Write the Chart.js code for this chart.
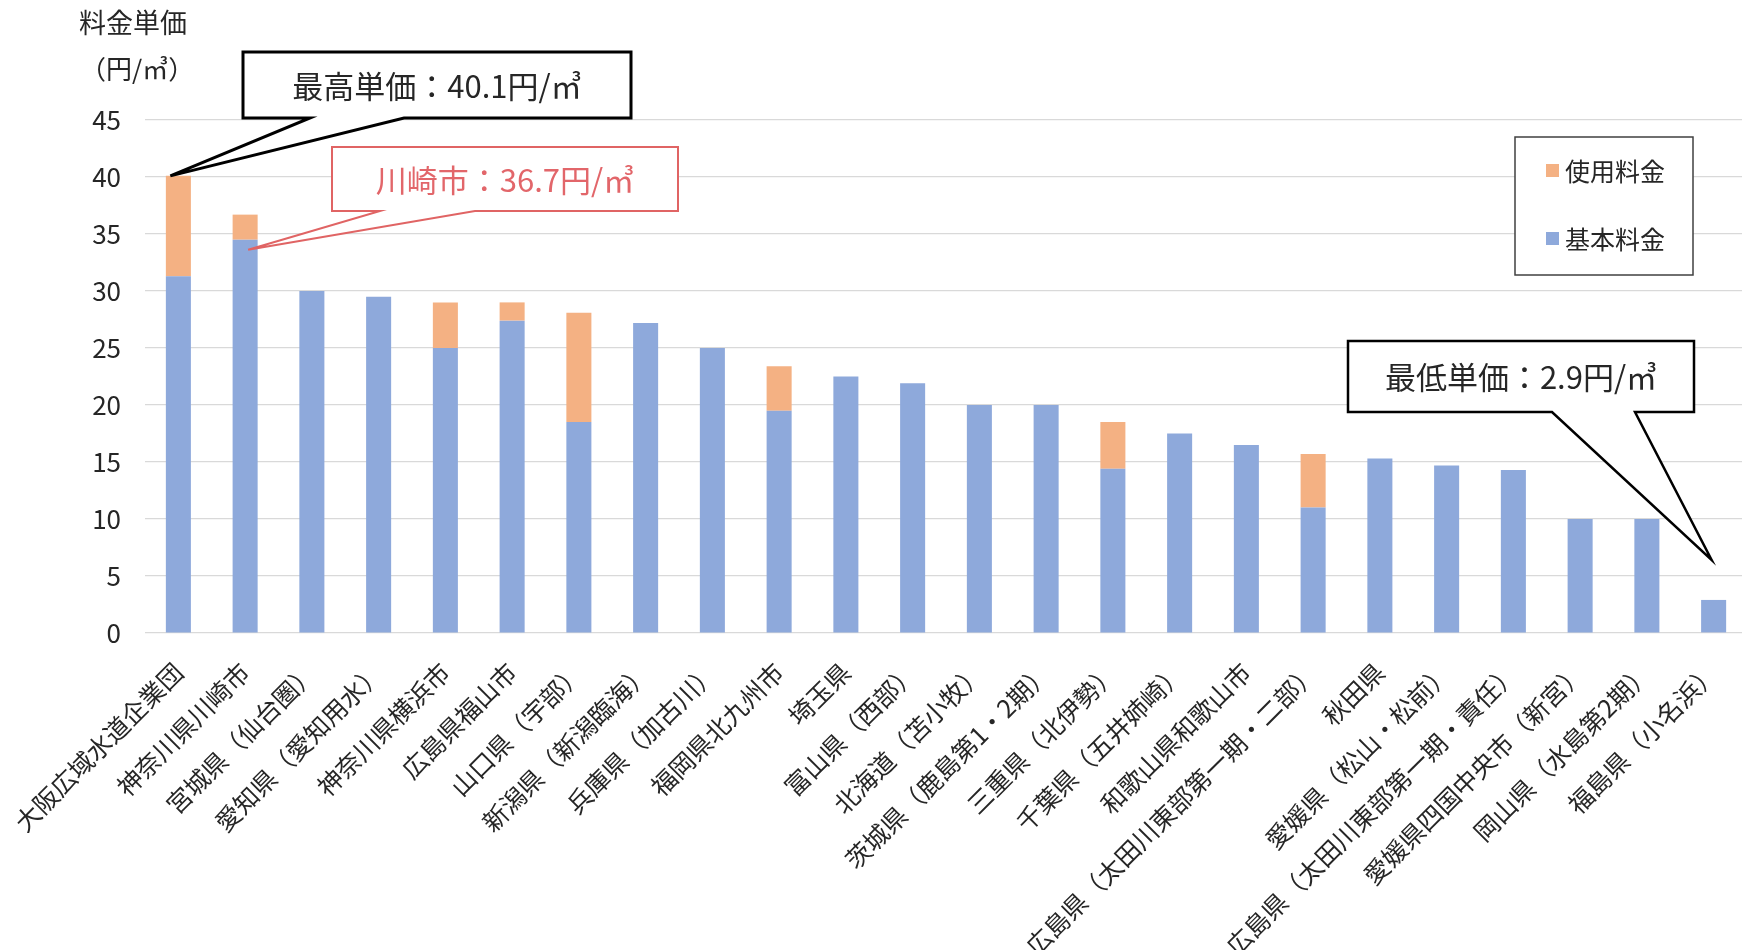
<!DOCTYPE html>
<html lang="ja">
<head>
<meta charset="utf-8">
<title>料金単価</title>
<script src="https://cdn.jsdelivr.net/npm/chart.js@4.4.1/dist/chart.umd.min.js"></script>
<style>
  html, body { margin: 0; padding: 0; background: #fff; overflow: hidden; }
  #wrap { position: relative; width: 1747px; height: 950px; }
</style>
</head>
<body>
<div id="wrap"><canvas id="c"></canvas></div>
<script>
// 事業体名
const categories = [
  '大阪広域水道企業団', '神奈川県川崎市', '宮城県（仙台圏）', '愛知県（愛知用水）',
  '神奈川県横浜市', '広島県福山市', '山口県（宇部）', '新潟県（新潟臨海）',
  '兵庫県（加古川）', '福岡県北九州市', '埼玉県', '富山県（西部）',
  '北海道（苫小牧）', '茨城県（鹿島第1・2期）', '三重県（北伊勢）', '千葉県（五井姉崎）',
  '和歌山県和歌山市', '広島県（太田川東部第一期・二部）', '秋田県', '愛媛県（松山・松前）',
  '広島県（太田川東部第一期・責任）', '愛媛県四国中央市（新宮）', '岡山県（水島第2期）', '福島県（小名浜）'
];
// 基本料金（円/㎥）
const basicFee = [31.3, 34.5, 30.0, 29.5, 25.0, 27.4, 18.5, 27.2, 25.0, 19.5, 22.5, 21.9,
                  20.0, 20.0, 14.4, 17.5, 16.5, 11.0, 15.3, 14.7, 14.3, 10.0, 10.0, 2.9];
// 使用料金（円/㎥）
const usageFee = [8.8, 2.2, 0, 0, 4.0, 1.6, 9.6, 0, 0, 3.9, 0, 0,
                  0, 0, 4.1, 0, 0, 4.7, 0, 0, 0, 0, 0, 0];
// 縦軸目盛
const yTicks = [0, 5, 10, 15, 20, 25, 30, 35, 40, 45];

const FONT = '"Noto Sans CJK JP", "Noto Sans", sans-serif';
const TEXT = '#262626';
const total = basicFee.map((b, i) => +(b + usageFee[i]).toFixed(1));

// 吹き出し：先端は棒の値から求める
const callouts = [
  { idx: 0, value: () => total[0], dx: -8, dy: 0,
    text: () => '最高単価：' + total[0].toFixed(1) + '円/㎥',
    box: [243, 52, 388, 66], base: [310, 404], stroke: '#000', lw: 3, color: TEXT },
  { idx: 1, value: () => basicFee[1], dx: 3, dy: 10,
    text: () => '川崎市：' + total[1].toFixed(1) + '円/㎥',
    box: [332, 147, 346, 64], base: [380, 475], stroke: '#E06464', lw: 2, color: '#E2666A' },
  { idx: 23, value: () => total[23], dx: -2, dy: -40,
    text: () => '最低単価：' + total[23].toFixed(1) + '円/㎥',
    box: [1348, 341, 346, 71], base: [1552, 1635], stroke: '#000', lw: 2.5, color: TEXT }
];

const decorations = {
  id: 'decorations',
  afterDraw(chart) {
    const ctx = chart.ctx;
    const xs = chart.scales.x, ys = chart.scales.y;
    ctx.save();
    // 縦軸タイトル
    ctx.fillStyle = TEXT;
    ctx.textBaseline = 'middle';
    ctx.textAlign = 'left';
    ctx.font = '27px ' + FONT;
    ctx.fillText('料金単価', 79, 23);
    ctx.font = '26px ' + FONT;
    ctx.fillText('（円/㎥）', 80, 69);

    // 凡例
    ctx.fillStyle = '#fff';
    ctx.fillRect(1515, 137, 178, 138);
    ctx.strokeStyle = '#404040';
    ctx.lineWidth = 1.5;
    ctx.strokeRect(1515, 137, 178, 138);
    const items = chart.data.datasets.slice().reverse();
    items.forEach((ds, k) => {
      const cy = 171 + k * 68;
      ctx.fillStyle = ds.backgroundColor;
      ctx.fillRect(1546, cy - 7, 13, 13);
      ctx.fillStyle = TEXT;
      ctx.font = '25px ' + FONT;
      ctx.textAlign = 'left';
      ctx.fillText(ds.label, 1565, cy);
    });

    // 吹き出し
    callouts.forEach(c => {
      const tx = xs.getPixelForValue(c.idx) + c.dx;
      const ty = ys.getPixelForValue(c.value()) + c.dy;
      const [bx, by, bw, bh] = c.box;
      const bb = by + bh;
      ctx.beginPath();
      ctx.moveTo(bx, by);
      ctx.lineTo(bx + bw, by);
      ctx.lineTo(bx + bw, bb);
      ctx.lineTo(c.base[1], bb);
      ctx.lineTo(tx, ty);
      ctx.lineTo(c.base[0], bb);
      ctx.lineTo(bx, bb);
      ctx.closePath();
      ctx.fillStyle = '#fff';
      ctx.fill();
      ctx.strokeStyle = c.stroke;
      ctx.lineWidth = c.lw;
      ctx.lineJoin = 'miter';
      ctx.stroke();
      ctx.fillStyle = c.color;
      ctx.font = '31px ' + FONT;
      ctx.textAlign = 'center';
      ctx.textBaseline = 'middle';
      ctx.fillText(c.text(), bx + bw / 2, by + bh / 2 + 1);
    });
    ctx.restore();
  }
};

new Chart(document.getElementById('c'), {
  type: 'bar',
  data: {
    labels: categories,
    datasets: [
      { label: '基本料金', data: basicFee, backgroundColor: '#8EA9DB' },
      { label: '使用料金', data: usageFee, backgroundColor: '#F4B183' }
    ]
  },
  options: {
    responsive: true,
    maintainAspectRatio: false,
    animation: false,
    devicePixelRatio: 1,
    layout: { padding: { top: 120, left: 0, right: 0, bottom: 0 } },
    datasets: { bar: { barPercentage: 0.375, categoryPercentage: 1.0, borderWidth: 0 } },
    plugins: { legend: { display: false }, tooltip: { enabled: false } },
    scales: {
      x: {
        stacked: true,
        offset: true,
        grid: { display: false, drawTicks: false },
        border: { display: false },
        ticks: {
          autoSkip: false, maxRotation: 45, minRotation: 45, padding: 24,
          color: TEXT, font: { family: FONT, size: 25 }
        },
        afterFit(s) { s.height = 317; s.paddingLeft = 0; s.paddingRight = 0; }
      },
      y: {
        stacked: true,
        min: 0, max: 45,
        afterBuildTicks(s) { s.ticks = yTicks.map(v => ({ value: v })); },
        grid: { color: '#D9D9D9', lineWidth: 1.2, drawTicks: false },
        border: { display: false },
        ticks: { padding: 24, color: TEXT, font: { family: FONT, size: 26 } },
        afterFit(s) { s.width = 145; s.paddingTop = 0; s.paddingBottom = 0; }
      }
    }
  },
  plugins: [decorations]
});
</script>
</body>
</html>
